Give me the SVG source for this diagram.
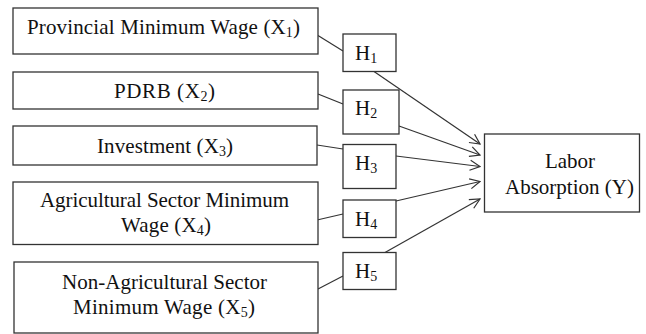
<svg xmlns="http://www.w3.org/2000/svg" width="646" height="334" viewBox="0 0 646 334">
<defs>
<style>
.box{fill:#fff;stroke:#333;stroke-width:1.3}
.t{font-family:"Liberation Serif","Times New Roman",serif;font-size:21px;fill:#111}
.s{font-size:14px}
.c{fill:none;stroke:#333;stroke-width:1.2}
</style>
<marker id="ah" viewBox="0 0 12 12" refX="11" refY="6" markerWidth="12" markerHeight="12" markerUnits="userSpaceOnUse" orient="auto">
<path d="M1,1 L11,6 L1,11" fill="none" stroke="#333" stroke-width="1.2"/>
</marker>
</defs>
<rect width="646" height="334" fill="#fff"/>
<g id="connectors">
<line class="c" x1="318" y1="35.5" x2="343" y2="51"/>
<line class="c" x1="318" y1="94" x2="343" y2="104"/>
<line class="c" x1="317" y1="145" x2="343" y2="149"/>
<line class="c" x1="317" y1="220" x2="343" y2="214"/>
<line class="c" x1="318" y1="289" x2="343" y2="276"/>
<line class="c" x1="374" y1="71.5" x2="480" y2="144" marker-end="url(#ah)"/>
<line class="c" x1="399" y1="126" x2="480" y2="155" marker-end="url(#ah)"/>
<line class="c" x1="396" y1="156" x2="480" y2="166.5" marker-end="url(#ah)"/>
<line class="c" x1="396" y1="201" x2="480" y2="181.5" marker-end="url(#ah)"/>
<line class="c" x1="385" y1="252.5" x2="480" y2="199" marker-end="url(#ah)"/>
</g>
<g id="x1"><rect class="box" x="13" y="8" width="305" height="46"/>
<text class="t" x="27" y="33.5" textLength="273" lengthAdjust="spacing">Provincial Minimum Wage (X<tspan class="s" dy="3">1</tspan><tspan dy="-3">)</tspan></text></g>
<g id="x2"><rect class="box" x="13" y="72" width="305" height="37"/>
<text class="t" x="114" y="98" textLength="101" lengthAdjust="spacing">PDRB (X<tspan class="s" dy="3">2</tspan><tspan dy="-3">)</tspan></text></g>
<g id="x3"><rect class="box" x="13" y="126" width="304" height="39"/>
<text class="t" x="97" y="153" textLength="136" lengthAdjust="spacing">Investment (X<tspan class="s" dy="3">3</tspan><tspan dy="-3">)</tspan></text></g>
<g id="x4"><rect class="box" x="13" y="182" width="305" height="62.5"/>
<text class="t" x="40" y="207" textLength="249" lengthAdjust="spacing">Agricultural Sector Minimum</text>
<text class="t" x="121" y="232" textLength="90" lengthAdjust="spacing">Wage (X<tspan class="s" dy="3">4</tspan><tspan dy="-3">)</tspan></text></g>
<g id="x5"><rect class="box" x="14" y="262" width="304" height="71"/>
<text class="t" x="62" y="288.5" textLength="205" lengthAdjust="spacing">Non-Agricultural Sector</text>
<text class="t" x="73" y="313.5" textLength="182" lengthAdjust="spacing">Minimum Wage (X<tspan class="s" dy="3">5</tspan><tspan dy="-3">)</tspan></text></g>
<g id="h1"><rect class="box" x="343" y="34" width="53" height="37.5"/>
<text class="t" x="355" y="59.5">H<tspan class="s" dy="3">1</tspan></text></g>
<g id="h2"><rect class="box" x="343" y="90" width="56" height="44"/>
<text class="t" x="355" y="115">H<tspan class="s" dy="3">2</tspan></text></g>
<g id="h3"><rect class="box" x="343" y="144.5" width="53" height="44"/>
<text class="t" x="355" y="170">H<tspan class="s" dy="3">3</tspan></text></g>
<g id="h4"><rect class="box" x="343" y="200" width="53" height="37.5"/>
<text class="t" x="355" y="225.5">H<tspan class="s" dy="3">4</tspan></text></g>
<g id="h5"><rect class="box" x="343" y="252.5" width="53" height="37"/>
<text class="t" x="355" y="277.5">H<tspan class="s" dy="3">5</tspan></text></g>
<g id="y"><rect class="box" x="484.5" y="134" width="155" height="78"/>
<text class="t" x="545" y="168" textLength="50" lengthAdjust="spacing">Labor</text>
<text class="t" x="505" y="193.5" textLength="129" lengthAdjust="spacing">Absorption (Y)</text></g>
</svg>
